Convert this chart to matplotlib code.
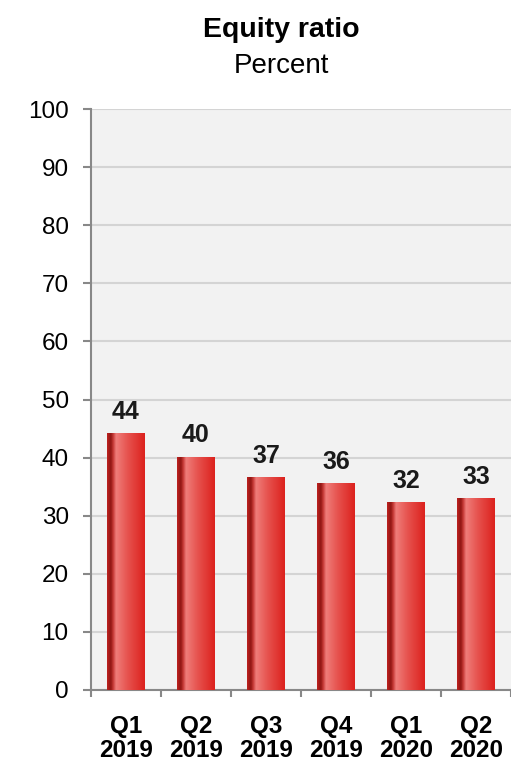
import numpy as np
from matplotlib import pyplot as plt
from matplotlib.colors import LinearSegmentedColormap

quarters = ['Q1\n2019', 'Q2\n2019', 'Q3\n2019', 'Q4\n2019', 'Q1\n2020', 'Q2\n2020']
ratio = [44.1, 40.1, 36.6, 35.5, 32.2, 33.0]
labels = ['44', '40', '37', '36', '32', '33']

plt.rcParams['font.family'] = ['Liberation Sans', 'DejaVu Sans']

# red bar shading, left to right
bar_cmap = LinearSegmentedColormap.from_list('bar', [
    (0.0, '#c0221f'), (0.10, '#8f1714'), (0.16, '#c43733'),
    (0.24, '#ef7d7a'), (0.55, '#e6524e'), (1.0, '#dc211d')])
grad = np.linspace(0, 1, 256).reshape(1, -1)

fig = plt.figure(figsize=(5.11, 7.63), dpi=100)
ax = fig.add_axes([0.178, 0.0957, 0.822, 0.7614])
ax.set_facecolor('#f2f2f2')

w = 0.53
for i, v in enumerate(ratio):
    ax.imshow(grad, cmap=bar_cmap, aspect='auto', interpolation='bilinear',
              extent=[i - w / 2, i + w / 2, 0, v], zorder=3)
    ax.annotate(labels[i], (i, v), xytext=(0, 7), textcoords='offset points',
                ha='center', va='bottom', fontsize=18, fontweight='bold', color='#1a1a1a')

ax.set_xlim(-0.5, 5.5)
ax.set_ylim(0, 100)
ax.set_yticks(range(0, 101, 10))
ax.yaxis.grid(True, color='#d4d4d4', lw=1.5, zorder=1)
ax.set_axisbelow(True)

ax.set_xticks(range(len(quarters)))
ax.set_xticklabels(quarters, fontsize=17.5, fontweight='bold', linespacing=1.08)
ax.set_xticks(np.arange(-0.5, 6, 1), minor=True)
ax.tick_params(axis='x', which='major', length=0, pad=18)
ax.tick_params(axis='x', which='minor', length=5, width=1.5, color='#888888')
ax.tick_params(axis='y', labelsize=17.5, length=6, width=1.5, color='#888888', pad=10)

for s in ['top', 'right']:
    ax.spines[s].set_visible(False)
for s in ['left', 'bottom']:
    ax.spines[s].set_color('#888888')
    ax.spines[s].set_linewidth(1.5)

fig.text(0.55, 0.961, 'Equity ratio', ha='center', va='center', fontsize=20.5, fontweight='bold')
fig.text(0.55, 0.914, 'Percent', ha='center', va='center', fontsize=20)

plt.savefig('out.png', dpi=100)
